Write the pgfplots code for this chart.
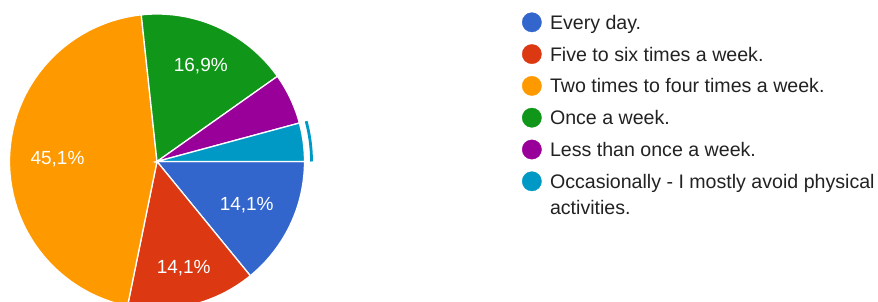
\documentclass[border=0pt]{standalone}
\usepackage{pgfplots}
\pgfplotsset{compat=1.18}
\usepackage{pgfplotstable}
\usepackage{fontspec}
\setmainfont{Liberation Sans}
\definecolor{cBlue}{HTML}{3366CC}
\definecolor{cRed}{HTML}{DC3912}
\definecolor{cOrange}{HTML}{FF9900}
\definecolor{cGreen}{HTML}{109618}
\definecolor{cPurple}{HTML}{990099}
\definecolor{cCyan}{HTML}{0099C6}
\definecolor{cText}{HTML}{222222}
% pie centre and radius (axis units = px)
\newcommand{\cx}{157}
\newcommand{\cy}{140.5}
\newcommand{\rr}{147.5}
% slice: colour, cumulative percent before, percent
\newcommand{\pieslice}[3]{%
  \pgfmathsetmacro{\aS}{-3.6*(#2+#3)}%
  \pgfmathsetmacro{\aE}{-3.6*(#2)}%
  \addplot[forget plot, fill=#1, draw=white, line width=1.3pt, domain=\aS:\aE, samples=90, variable=\t]
    ({\cx+\rr*cos(t)},{\cy+\rr*sin(t)}) -- (axis cs:\cx,\cy) -- cycle;
}
\begin{document}
\begin{tikzpicture}
\begin{axis}[
  at={(0,0)}, anchor=south west,
  scale only axis, width=878pt, height=302pt,
  xmin=0, xmax=878, ymin=0, ymax=302,
  hide axis, clip=true,
  legend cell align=left,
  legend style={
    at={(axis cs:522,292.7)}, anchor=north west,
    draw=none, fill=none, inner sep=0pt, outer sep=0pt,
    row sep=5.8pt,
    font=\fontsize{19.6}{26}\selectfont\color{cText},
    cells={anchor=west},
    nodes={inner sep=0pt, outer sep=0pt, text height=20pt, text depth=6pt},
    /tikz/every odd column/.style={column sep=8.3pt},
    /tikz/every even column/.style={column sep=0pt},
  },
]
% percentages: 14.1, 14.1, 45.1, 16.9, 5.6, 4.2
\pieslice{cBlue}{0}{14.1}
\pieslice{cRed}{14.1}{14.1}
\pieslice{cOrange}{28.2}{45.1}
\pieslice{cGreen}{73.3}{16.9}
\pieslice{cPurple}{90.2}{5.6}
\pieslice{cCyan}{95.8}{4.2}
% highlight ring of the selected slice
\addplot[forget plot, draw=cCyan, line width=2.8pt, domain=-360:-344.88, samples=30, variable=\t]
  ({\cx+154.5*cos(t)},{\cy+154.5*sin(t)});
% slice labels
\node[anchor=base, text=white, font=\fontsize{19}{23}\selectfont, inner sep=0pt] at (axis cs:200.8,230.3) {16,9\%};
\node[anchor=base, text=white, font=\fontsize{19}{23}\selectfont, inner sep=0pt] at (axis cs:57.5,137) {45,1\%};
\node[anchor=base, text=white, font=\fontsize{19}{23}\selectfont, inner sep=0pt] at (axis cs:246.7,91) {14,1\%};
\node[anchor=base, text=white, font=\fontsize{19}{23}\selectfont, inner sep=0pt] at (axis cs:183.7,28) {14,1\%};
% legend
\addlegendimage{legend image code/.code={\fill[cBlue] (9.65pt,0pt) circle (9.65pt);}}
\addlegendentry{Every day.}
\addlegendimage{legend image code/.code={\fill[cRed] (9.65pt,0pt) circle (9.65pt);}}
\addlegendentry{Five to six times a week.}
\addlegendimage{legend image code/.code={\fill[cOrange] (9.65pt,0pt) circle (9.65pt);}}
\addlegendentry{Two times to four times a week.}
\addlegendimage{legend image code/.code={\fill[cGreen] (9.65pt,0pt) circle (9.65pt);}}
\addlegendentry{Once a week.}
\addlegendimage{legend image code/.code={\fill[cPurple] (9.65pt,0pt) circle (9.65pt);}}
\addlegendentry{Less than once a week.}
\addlegendimage{legend image code/.code={\fill[cCyan] (9.65pt,0pt) circle (9.65pt);}}
\addlegendentry{\begin{tabular}[t]{@{}l@{}}Occasionally - I mostly avoid physical\\activities.\end{tabular}}
\end{axis}
\pgfresetboundingbox
\path[use as bounding box] (0,0) rectangle (878pt,302pt);
\end{tikzpicture}
\end{document}
